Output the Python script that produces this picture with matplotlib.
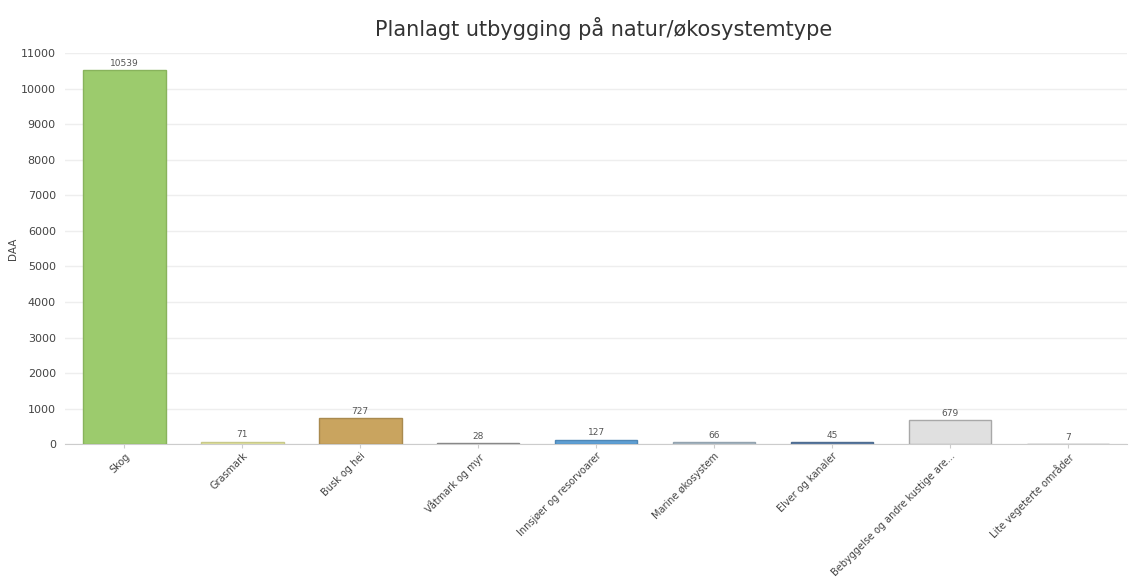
import numpy as np
import matplotlib.pyplot as plt

# data
categories = ["Skog", "Grasmark", "Busk og hei", "Våtmark og myr",
              "Innsjøer og resorvoarer", "Marine økosystem", "Elver og kanaler",
              "Bebyggelse og andre kustige are...", "Lite vegeterte områder"]
values = [10539, 71, 727, 28, 127, 66, 45, 679, 7]
colors = ["#9ccb6d", "#e4e6a2", "#c9a45f", "#9a9a9a", "#5e9fd4",
          "#aab9c5", "#5d7fa9", "#e0e0e0", "#9a9a9a"]
edges = ["#88b35c", "#c8c98a", "#a98a4f", "#888888", "#4f87b5",
         "#93a3af", "#4f6d90", "#a8a8a8", "#888888"]
yticks = np.arange(0, 11001, 1000)

fig = plt.figure(figsize=(11.29, 5.79), dpi=100)
ax = fig.add_axes([0.058, 0.233, 0.94, 0.675])

x = np.arange(len(categories))
bars = ax.bar(x, values, width=0.7, color=colors, edgecolor=edges, linewidth=1, zorder=3)

# value labels above bars
for xi, v in zip(x, values):
    ax.text(xi, v + 60, str(v), ha="center", va="bottom", fontsize=6.5, color="#555555")

ax.set_xlim(-0.5, len(categories) - 0.5)
ax.set_ylim(0, 11000)
ax.set_yticks(yticks)
ax.set_yticklabels([str(t) for t in yticks], fontsize=8, color="#444444")
ax.set_xticks(x)
ax.set_xticklabels(categories, rotation=45, ha="right", rotation_mode="anchor",
                   fontsize=7, color="#444444")
ax.tick_params(axis="y", length=0, pad=7)
ax.tick_params(axis="x", length=3, color="#cccccc", pad=2)

ax.grid(axis="y", color="#eeeeee", linewidth=1, zorder=0)
for side in ["top", "right", "left"]:
    ax.spines[side].set_visible(False)
ax.spines["bottom"].set_color("#cccccc")

ax.set_ylabel("DAA", fontsize=7.5, color="#444444")
ax.yaxis.set_label_coords(-0.045, 0.5)
fig.text(0.535, 0.95, "Planlagt utbygging på natur/økosystemtype",
         ha="center", va="center", fontsize=15, color="#333333")

fig.savefig("out.png", dpi=100)
